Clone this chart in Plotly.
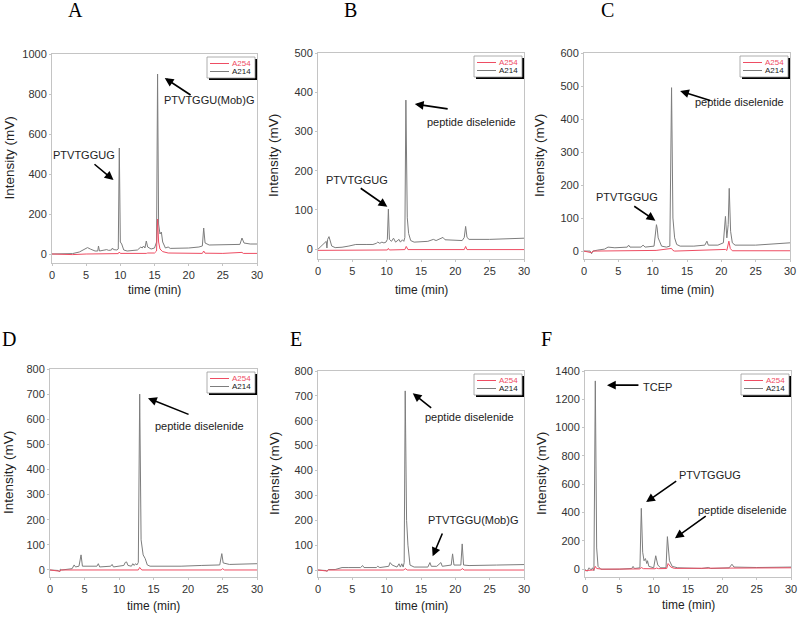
import plotly.graph_objects as go

W, H = 800, 617

# ---------------- data (time in min, intensity in mV) ----------------
a_t214 = [0, 2, 3, 4, 4.6, 5.2, 5.6, 6.3, 6.7, 6.8, 6.95, 7.8, 8.0, 8.3, 8.7, 8.85, 9.0, 9.5, 9.7, 9.85,
          10.0, 10.2, 10.5, 11.0, 12.5, 13.0, 13.2, 13.4, 13.6, 13.8, 14.0, 14.5, 15.0, 15.3, 15.45, 15.6,
          15.8, 16.0, 16.2, 16.6, 17.0, 17.3, 20.0, 21.5, 22.0, 22.2, 22.4, 23.0, 25.0, 27.5, 27.8, 28.1, 29.0, 30.0]
a_v214 = [0, 0, 2, 10, 20, 32, 25, 15, 15, 40, 15, 18, 22, 18, 20, 30, 22, 20, 25, 530,
          60, 50, 20, 15, 20, 35, 30, 40, 30, 65, 35, 25, 30, 60, 900, 150,
          100, 110, 60, 30, 35, 28, 30, 35, 40, 130, 55, 45, 45, 48, 80, 55, 50, 50]
a_t254 = [0, 3, 5, 9.7, 9.85, 10.0, 13.8, 14.0, 15.0, 15.3, 15.45, 15.6, 15.8, 16.2, 17.0, 20.0, 22.0, 22.2,
          22.4, 25.0, 27.8, 28.0, 30.0]
a_v254 = [0, -3, 0, 2, 10, 3, 3, 5, 5, 15, 175, 60, 25, 12, 5, 3, 3, 15, 4, 3, 8, 3, 3]

b_t214 = [0, 0.5, 1.0, 1.2, 1.3, 1.4, 1.6, 1.8, 2.0, 2.5, 3.5, 4.5, 5.5, 7.0, 8.0, 8.5, 8.7, 9.0, 9.3, 9.6,
          9.9, 10.1, 10.25, 10.4, 10.7, 11.0, 11.3, 11.8, 12.0, 12.3, 12.5, 12.65, 12.8, 13.0, 13.2, 13.5,
          14.0, 16.0, 16.8, 17.2, 18.0, 18.2, 18.5, 21.0, 21.3, 21.5, 21.7, 22.0, 25.0, 30.0]
b_v214 = [0, 8, 18, 20, 3, 25, 32, 20, 8, 4, 5, 8, 12, 12, 12, 15, 18, 15, 18, 16,
          18, 25, 102, 25, 20, 28, 18, 25, 18, 24, 20, 30, 380, 80, 40, 22,
          18, 20, 25, 22, 28, 30, 24, 22, 30, 58, 30, 25, 25, 28]
b_t254 = [0, 1.0, 2.0, 10.1, 10.25, 10.4, 12.65, 12.85, 13.1, 21.3, 21.5, 21.7, 30]
b_v254 = [-3, -3, -2, -2, 2, -2, -1, 7, -1, -1, 7, -1, -1]

c_t214 = [0, 0.9, 1.1, 1.3, 2.0, 3.0, 3.5, 4.5, 6.3, 6.5, 6.7, 8.3, 8.6, 8.9, 10.2, 10.4, 10.55, 10.65,
          10.8, 11.0, 11.3, 12.0, 12.5, 12.75, 12.95, 13.2, 13.5, 14.0, 16.0, 17.6, 17.9, 18.1, 19.5, 20.3,
          20.6, 20.8, 21.0, 21.15, 21.35, 21.6, 22.0, 25.0, 30.0]
c_v214 = [0, 0, -8, 0, 3, 6, 12, 10, 12, 18, 12, 12, 18, 12, 15, 60, 80, 70,
          40, 30, 15, 12, 15, 495, 100, 40, 20, 15, 15, 18, 30, 18, 18, 25,
          105, 40, 80, 190, 60, 25, 18, 18, 25]
c_t254 = [0, 1.1, 1.3, 3, 10.5, 12.75, 12.95, 13.2, 20.6, 20.8, 21.1, 21.3, 21.6, 30]
c_v254 = [0, -5, 0, 0, 2, 8, 2, 0, 5, 2, 30, 8, 1, 1]

d_t214 = [0, 1.2, 1.4, 1.5, 1.7, 2.5, 3.2, 3.5, 3.7, 4.2, 4.5, 4.7, 6.8, 7.0, 7.2, 8.8, 9.0, 9.2, 10.7, 10.9,
          11.1, 11.3, 11.8, 12.0, 12.2, 12.4, 12.6, 12.8, 13.0, 13.2, 13.5, 13.8, 14.1, 14.5, 16.0, 19.0,
          22.0, 24.6, 24.9, 25.1, 26.0, 30.0]
d_v214 = [0, -2, -8, 3, 0, 2, 5, 20, 12, 15, 60, 15, 15, 25, 12, 15, 22, 12, 18, 30,
          32, 18, 15, 25, 18, 25, 20, 30, 700, 120, 60, 45, 20, 15, 14, 15,
          18, 20, 65, 28, 22, 25]
d_t254 = [0, 1.4, 1.6, 3, 12.8, 13.0, 13.3, 24.8, 25.0, 25.3, 30]
d_v254 = [0, -5, 0, 0, 0, 10, 0, 0, 5, 0, 0]

e_t214 = [0, 1.2, 1.3, 1.5, 2.5, 3.5, 4.5, 6.2, 6.5, 6.7, 8.5, 8.7, 9.0, 10.3, 10.5, 10.8, 11.5, 11.8, 12.0,
          12.2, 12.4, 12.55, 12.7, 12.9, 13.1, 13.4, 14.0, 16.0, 16.3, 16.5, 17.3, 17.9, 18.1, 19.4, 19.6,
          19.8, 20.8, 21.0, 21.2, 22.0, 26.0, 30.0]
e_v214 = [0, -2, -6, 2, 2, 10, 10, 10, 18, 10, 10, 15, 10, 15, 30, 20, 12, 25, 12,
          25, 12, 30, 720, 200, 100, 20, 12, 12, 30, 15, 15, 30, 15, 20, 65,
          20, 20, 105, 20, 18, 20, 22]
e_t254 = [0, 1.3, 1.5, 3, 12.5, 12.7, 13.0, 20.8, 21.0, 21.3, 30]
e_v254 = [0, -4, 0, 0, 0, 6, 0, 0, 6, 0, 0]

f_t214 = [0, 0.3, 0.6, 0.9, 1.1, 1.3, 1.5, 1.7, 1.9, 2.3, 5.0, 6.8, 7.0, 7.2, 8.0, 8.2, 8.4, 8.6, 8.8, 9.0,
          9.1, 9.3, 10.0, 10.3, 10.6, 11.0, 11.8, 12.0, 12.3, 12.7, 13.5, 17.0, 18.0, 18.3, 21.0, 21.4,
          21.7, 25.0, 30.0]
f_v214 = [0, -15, 10, -5, 10, -10, 1330, 150, 20, 0, 0, 5, 20, 5, 10, 430, 120, 60, 75, 40,
          60, 20, 10, 95, 30, 10, 10, 230, 60, 20, 10, 5, 12, 5, 10, 35,
          15, 12, 15]
f_t254 = [0, 1.3, 1.5, 1.7, 2.5, 8.0, 8.2, 8.5, 10.2, 10.4, 10.7, 11.9, 12.1, 12.5, 13.0, 21.4, 30.0]
f_v254 = [-10, -5, 20, 5, 0, 2, 12, 4, 3, 8, 4, 5, 40, 15, 6, 6, 10]

panel_letters = ["A", "B", "C", "D", "E", "F"]
y_ranges = [[-45, 1000], [-25, 500], [-24, 600], [-28, 800], [-28, 800], [-55, 1400]]
y_dticks = [200, 100, 100, 100, 100, 200]
series_names = ["A254", "A214"]
x_title = "time (min)"
y_title = "Intensity (mV)"

# peak labels: (panel index, text, text x, text y, arrow tail x, tail y, head x, head y)
peak_labels = [
    (0, "PTVTGGUG", 4.7, 495, 6.0, 455, 9.0, 370),
    (0, "PTVTGGU(Mob)G", 23.0, 770, 20.5, 790, 16.5, 880),
    (1, "peptide diselenide", 22.3, 324, 19.1, 357, 14.1, 370),
    (1, "PTVTGGUG", 5.7, 176, 6.0, 158, 10.1, 108),
    (2, "peptide diselenide", 22.6, 452, 18.6, 455, 14.0, 485),
    (2, "PTVTGGUG", 6.3, 164, 7.1, 139, 10.4, 92),
    (3, "peptide diselenide", 21.6, 573, 20.3, 617, 14.2, 684),
    (4, "peptide diselenide", 22.0, 615, 16.7, 647, 13.8, 711),
    (4, "PTVTGGU(Mob)G", 22.6, 201, 18.2, 153, 16.7, 55),
    (5, "TCEP", 10.5, 1290, 8.0, 1300, 3.2, 1300),
    (5, "PTVTGGUG", 18.2, 665, 13.5, 629, 8.9, 474),
    (5, "peptide diselenide", 22.9, 417, 17.8, 382, 13.1, 219),
]

# ---------------- layout geometry (pixels) ----------------
boxes = [(52, 257, 54, 263), (318, 524, 53, 259), (584, 790, 53, 259),
         (50, 257, 369, 577), (318, 524, 371, 577), (585, 791, 371, 577)]
letter_pos = [(75, 10), (350, 10), (607, 10), (9, 339), (296, 339), (546, 339)]
ytitle_x = [9, 274, 540, 8, 274, 541]
xtitle_y = [290, 290, 290, 606, 606, 605]

RED = "#ee4d63"
GRAY = "#7d7d7d"
FONT = "Liberation Sans, Arial, sans-serif"


def px(x):
    return x / W


def py(y):
    return 1 - y / H


data_sets = [
    (a_t254, a_v254, a_t214, a_v214),
    (b_t254, b_v254, b_t214, b_v214),
    (c_t254, c_v254, c_t214, c_v214),
    (d_t254, d_v254, d_t214, d_v214),
    (e_t254, e_v254, e_t214, e_v214),
    (f_t254, f_v254, f_t214, f_v214),
]

fig = go.Figure()
layout = dict(width=W, height=H, margin=dict(l=0, r=0, t=0, b=0, autoexpand=False),
              paper_bgcolor="white", plot_bgcolor="white", showlegend=False,
              font=dict(family=FONT, size=11, color="#333333"))
shapes = []
annotations = []

for i, (t254, v254, t214, v214) in enumerate(data_sets):
    n = "" if i == 0 else str(i + 1)
    xa, ya = "x" + n, "y" + n
    x0, x1, y0, y1 = boxes[i]
    fig.add_trace(go.Scatter(x=t214, y=v214, mode="lines", name=series_names[1],
                             line=dict(color=GRAY, width=1), xaxis=xa, yaxis=ya))
    fig.add_trace(go.Scatter(x=t254, y=v254, mode="lines", name=series_names[0],
                             line=dict(color=RED, width=1), xaxis=xa, yaxis=ya))
    axis_common = dict(showline=True, mirror=True, linecolor="#c4c4c4", linewidth=1,
                       showgrid=False, zeroline=False, ticks="outside", ticklen=2,
                       tickcolor="#c4c4c4", tickfont=dict(size=11, color="#333333"),
                       automargin=False)
    layout["xaxis" + n] = dict(domain=[px(x0), px(x1)], range=[0, 30], dtick=5, anchor=ya,
                               **axis_common)
    layout["yaxis" + n] = dict(domain=[py(y1), py(y0)], range=y_ranges[i], dtick=y_dticks[i],
                               anchor=xa, **axis_common)
    # axis titles
    annotations.append(dict(text=x_title, x=px((x0 + x1) / 2), y=py(xtitle_y[i]), xref="paper",
                            yref="paper", showarrow=False, xanchor="center", yanchor="middle",
                            font=dict(size=12, color="#222222")))
    annotations.append(dict(text=y_title, x=px(ytitle_x[i]), y=py((y0 + y1) / 2), xref="paper",
                            yref="paper", showarrow=False, xanchor="center", yanchor="middle",
                            textangle=-90, font=dict(size=13.5, color="#222222")))
    # panel letter
    lx, ly = letter_pos[i]
    annotations.append(dict(text=panel_letters[i], x=px(lx), y=py(ly), xref="paper", yref="paper",
                            showarrow=False, xanchor="center", yanchor="middle",
                            font=dict(family="Liberation Serif, Times New Roman, serif", size=20,
                                      color="black")))
    # legend box with drop shadow
    R, T = x1, y0
    shapes.append(dict(type="rect", xref="paper", yref="paper", x0=px(R - 48), x1=px(R),
                       y0=py(T + 26), y1=py(T + 5), fillcolor="black", line=dict(width=0)))
    shapes.append(dict(type="rect", xref="paper", yref="paper", x0=px(R - 50), x1=px(R - 2),
                       y0=py(T + 24), y1=py(T + 3), fillcolor="white",
                       line=dict(color="#9a9a9a", width=0.8)))
    for k, (col, tcol, dy) in enumerate([(RED, RED, 9.5), (GRAY, "#222222", 17.5)]):
        shapes.append(dict(type="line", xref="paper", yref="paper", x0=px(R - 47), x1=px(R - 28),
                           y0=py(T + dy), y1=py(T + dy), line=dict(color=col, width=1)))
        annotations.append(dict(text=series_names[k], x=px(R - 4), y=py(T + dy), xref="paper",
                                yref="paper", showarrow=False, xanchor="right", yanchor="middle",
                                font=dict(size=8, color=tcol)))

for (pi, txt, tx, ty, ax, ay, hx, hy) in peak_labels:
    n = "" if pi == 0 else str(pi + 1)
    annotations.append(dict(text=txt, x=tx, y=ty, xref="x" + n, yref="y" + n, showarrow=False,
                            font=dict(size=11, color="#222222")))
    annotations.append(dict(text="", x=hx, y=hy, xref="x" + n, yref="y" + n,
                            ax=ax, ay=ay, axref="x" + n, ayref="y" + n, showarrow=True,
                            arrowhead=2, arrowsize=1.1, arrowwidth=1.6, arrowcolor="black"))

layout["shapes"] = shapes
layout["annotations"] = annotations
fig.update_layout(**layout)
fig.write_html("out.html", config={"displayModeBar": False},
               post_script="document.body.style.margin='0';document.body.style.padding='0';"
                           "document.body.style.overflow='hidden';")
